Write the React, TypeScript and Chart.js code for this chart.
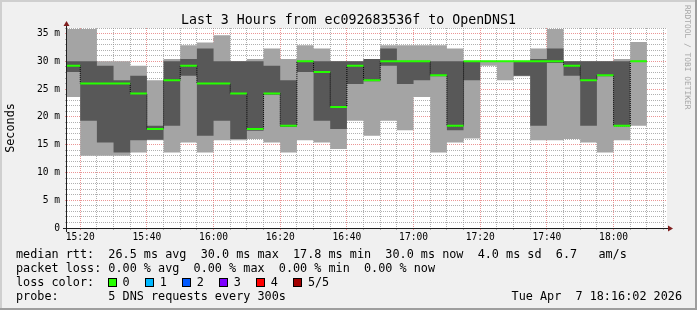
import React, { useEffect, useRef } from 'react';
import { Chart, registerables } from 'chart.js';

Chart.register(...registerables);

// ---------------- data ----------------
// start time of each 5-minute step (value holds until the next step)
const times = ['15:15', '15:20', '15:25', '15:30', '15:35', '15:40', '15:45', '15:50', '15:55', '16:00', '16:05', '16:10', '16:15', '16:20', '16:25', '16:30', '16:35', '16:40', '16:45', '16:50', '16:55', '17:00', '17:05', '17:10', '17:15', '17:20', '17:25', '17:30', '17:35', '17:40', '17:45', '17:50', '17:55', '18:00', '18:05'];
const dataEnd = '18:10';
const viewStart = '15:16:02';
const viewEnd = '18:16:02';

// sorted ping results (ms): 1st (min), 2nd, 3rd (median), 4th, 5th (max)
const pingMin = [23.6, 13.0, 13.0, 13.0, 13.6, 15.8, 13.6, 15.4, 13.6, 15.8, 15.8, 16.0, 15.4, 13.6, 15.8, 15.4, 14.2, 19.3, 16.6, 19.3, 17.6, 23.6, 13.6, 15.4, 16.1, 29.2, 26.6, 27.3, 15.8, 15.8, 16.0, 15.4, 13.6, 15.8, 18.4];
const ping2 = [28.1, 19.3, 15.4, 13.6, 15.8, 15.9, 18.4, 27.4, 16.6, 19.3, 16.0, 17.5, 24.0, 18.2, 28.1, 19.3, 17.8, 25.9, 26.4, 29.2, 25.9, 26.6, 27.3, 17.6, 26.6, 30.0, 30.0, 27.4, 18.4, 29.7, 27.4, 18.4, 27.3, 18.3, 30.0];
const pingMedian = [29.2, 26.0, 26.0, 26.0, 24.2, 17.8, 26.6, 29.2, 26.0, 26.0, 24.2, 17.8, 24.2, 18.4, 30.0, 28.1, 21.8, 29.2, 26.6, 30.0, 30.0, 30.0, 27.5, 18.4, 30.0, 30.0, 30.0, 30.0, 30.0, 30.0, 29.2, 26.6, 27.5, 18.4, 30.0];
const ping4 = [30.0, 30.0, 29.2, 26.6, 27.4, 18.4, 30.0, 30.4, 32.3, 30.0, 30.0, 30.0, 29.2, 26.6, 30.0, 30.0, 30.0, 30.0, 30.4, 32.3, 30.0, 30.0, 30.0, 30.0, 30.0, 30.0, 30.0, 30.0, 30.4, 32.3, 30.0, 30.0, 30.0, 30.0, 30.0];
const pingMax = [35.8, 35.8, 30.0, 30.0, 29.2, 26.6, 30.4, 32.9, 33.4, 34.7, 30.0, 30.4, 32.3, 30.4, 32.9, 32.3, 30.0, 30.0, 30.4, 32.9, 32.9, 32.9, 32.9, 32.3, 30.0, 30.0, 30.0, 30.0, 32.3, 35.8, 30.0, 30.0, 30.0, 30.4, 33.5];

// axis ticks
const xTickLabels = ['15:20', '15:40', '16:00', '16:20', '16:40', '17:00', '17:20', '17:40', '18:00'];
const xGridFirst = '15:20';
const xGridLast = '18:15';
const xGridStep = 5; // minutes
const yMax = 36;
const yLabelValues = [0, 5, 10, 15, 20, 25, 30, 35];
const yLabels = ['0', '5 m', '10 m', '15 m', '20 m', '25 m', '30 m', '35 m'];

// texts
const chartTitle = 'Last 3 Hours from ec092683536f to OpenDNS1';
const yTitle = 'Seconds';
const legendRtt = 'median rtt:  26.5 ms avg  30.0 ms max  17.8 ms min  30.0 ms now  4.0 ms sd  6.7   am/s';
const legendLoss = 'packet loss: 0.00 % avg  0.00 % max  0.00 % min  0.00 % now';
const lossLabel = 'loss color:';
const lossNames = ['0', '1', '2', '3', '4', '5/5'];
const lossColors = ['#26ff00', '#00b8ff', '#0059ff', '#7e00ff', '#ff0000', '#a10000'];
const probeLabel = 'probe:       5 DNS requests every 300s';
const stamp = 'Tue Apr  7 18:16:02 2026';
const watermark = 'RRDTOOL / TOBI OETIKER';

// ---------------- helpers ----------------
const FONT = "'DejaVu Sans Mono', monospace";
const LIGHT = '#a4a4a4';
const DARK = '#585858';
const GRID = 'rgba(143,143,143,0.7)';
const MGRID = 'rgba(222,79,79,0.6)';

const toMin = (s: string) => {
  const p = s.split(':').map(Number);
  return p[0] * 60 + p[1] + (p[2] || 0) / 60;
};
const fmt = (m: number) => {
  const h = Math.floor(m / 60 + 1e-9);
  const mm = Math.round(m - h * 60);
  return `${String(h).padStart(2, '0')}:${String(mm).padStart(2, '0')}`;
};

const starts = times.map(toMin);
const endX = toMin(dataEnd);
const stepPts = (vals: number[]) => [
  ...starts.map((x, i) => ({ x, y: vals[i] })),
  { x: endX, y: vals[vals.length - 1] },
];
const medianSegments = () => {
  const pts: { x: number; y: number | null }[] = [];
  starts.forEach((x, i) => {
    const nx = i + 1 < starts.length ? starts[i + 1] : endX;
    pts.push({ x, y: pingMedian[i] }, { x: nx, y: pingMedian[i] }, { x: nx, y: null });
  });
  return pts;
};

const xGridValues: number[] = [];
for (let m = toMin(xGridFirst); m <= toMin(xGridLast) + 1e-6; m += xGridStep) xGridValues.push(m);
const yGridValues: number[] = [];
for (let v = 0; v <= yMax; v += 1) yGridValues.push(v);

const rrdPlugin = {
  id: 'rrdLook',
  beforeDraw(chart: any) {
    const { ctx, chartArea: a, width: W, height: H } = chart;
    ctx.save();
    ctx.fillStyle = '#f0f0f0';
    ctx.fillRect(0, 0, W, H);
    ctx.fillStyle = '#cfcfcf';
    ctx.fillRect(0, 0, W, 2);
    ctx.fillRect(0, 0, 2, H);
    ctx.fillStyle = '#9e9e9e';
    ctx.fillRect(0, H - 2, W, 2);
    ctx.fillRect(W - 2, 0, 2, H);
    ctx.fillStyle = '#ffffff';
    ctx.fillRect(a.left, a.top, a.right - a.left, a.bottom - a.top);
    ctx.restore();
  },
  afterDraw(chart: any) {
    const { ctx, chartArea: a } = chart;
    ctx.save();
    // axes
    const ax = a.left - 0.5;
    const ay = a.bottom + 0.5;
    ctx.strokeStyle = '#1f1f1f';
    ctx.lineWidth = 1;
    ctx.beginPath();
    ctx.moveTo(a.left - 4, ay);
    ctx.lineTo(a.right + 4, ay);
    ctx.moveTo(ax, a.bottom + 4);
    ctx.lineTo(ax, a.top - 4);
    ctx.stroke();
    // arrows
    ctx.fillStyle = '#801f1f';
    ctx.beginPath();
    ctx.moveTo(a.right + 1, ay - 3);
    ctx.lineTo(a.right + 1, ay + 3);
    ctx.lineTo(a.right + 6, ay);
    ctx.closePath();
    ctx.fill();
    ctx.beginPath();
    ctx.moveTo(ax - 3, a.top - 2);
    ctx.lineTo(ax + 3, a.top - 2);
    ctx.lineTo(ax, a.top - 7);
    ctx.closePath();
    ctx.fill();

    // title
    ctx.fillStyle = '#000';
    ctx.font = `13.25px ${FONT}`;
    ctx.textAlign = 'center';
    ctx.textBaseline = 'alphabetic';
    ctx.fillText(chartTitle, 348.5, 24);

    // y title
    ctx.save();
    ctx.translate(11, (a.top + a.bottom) / 2);
    ctx.rotate(-Math.PI / 2);
    ctx.font = `11.8px ${FONT}`;
    ctx.textAlign = 'center';
    ctx.textBaseline = 'middle';
    ctx.fillText(yTitle, 0, 0);
    ctx.restore();

    // legend
    ctx.font = `11.8px ${FONT}`;
    ctx.textAlign = 'left';
    ctx.textBaseline = 'alphabetic';
    ctx.fillStyle = '#000';
    ctx.fillText(legendRtt, 16, 258);
    ctx.fillText(legendLoss, 16, 272);
    ctx.fillText(lossLabel, 16, 286);
    lossColors.forEach((c, i) => {
      const bx = 108 + 37.06 * i;
      ctx.fillStyle = '#000';
      ctx.fillRect(Math.round(bx), 278, 9, 9);
      ctx.fillStyle = c;
      ctx.fillRect(Math.round(bx) + 1, 279, 7, 7);
      ctx.fillStyle = '#000';
      ctx.fillText(lossNames[i], bx + 14.6, 286);
    });
    ctx.fillText(probeLabel, 16, 300);
    ctx.textAlign = 'right';
    ctx.fillText(stamp, 682, 300);

    // watermark
    ctx.save();
    ctx.translate(687.5, 5);
    ctx.rotate(Math.PI / 2);
    ctx.font = `7.9px ${FONT}`;
    ctx.fillStyle = '#a6a6a6';
    ctx.textAlign = 'left';
    ctx.textBaseline = 'middle';
    ctx.fillText(watermark, 0, 0);
    ctx.restore();

    ctx.restore();
  },
};

export default function App() {
  const ref = useRef<HTMLCanvasElement | null>(null);

  useEffect(() => {
    if (!ref.current) return;
    const hidden = 'rgba(0,0,0,0)';
    const base = { pointRadius: 0, pointHoverRadius: 0, stepped: 'before' as const, clip: 0 };
    const chart = new Chart(ref.current, {
      type: 'line',
      data: {
        datasets: [
          { ...base, data: stepPts(pingMax), borderColor: hidden, borderWidth: 1, fill: false, order: 10 },
          { ...base, data: stepPts(pingMin), borderColor: hidden, borderWidth: 1, fill: 0, backgroundColor: LIGHT, order: 9 },
          { ...base, data: stepPts(ping4), borderColor: hidden, borderWidth: 1, fill: false, order: 8 },
          { ...base, data: stepPts(ping2), borderColor: hidden, borderWidth: 1, fill: 2, backgroundColor: DARK, order: 7 },
          { ...base, data: stepPts(pingMedian), borderColor: '#000000', borderWidth: 1, borderDash: [1, 1], fill: false, order: 2 },
          { pointRadius: 0, clip: 0, data: medianSegments(), borderColor: lossColors[0], borderWidth: 2, borderCapStyle: 'butt', fill: false, spanGaps: false, stepped: false, order: 1 },
        ] as any,
      },
      options: {
        responsive: false,
        animation: false,
        events: [],
        layout: { padding: { left: 0, right: 30, top: 28, bottom: 62 } },
        plugins: { legend: { display: false }, tooltip: { enabled: false }, title: { display: false } },
        scales: {
          x: {
            type: 'linear',
            min: toMin(viewStart),
            max: toMin(viewEnd),
            afterBuildTicks: (s: any) => {
              s.ticks = xGridValues.map((v) => ({ value: v }));
            },
            afterFit: (s: any) => {
              s.height = 20;
            },
            ticks: {
              autoSkip: false,
              maxRotation: 0,
              minRotation: 0,
              padding: 1.5,
              color: '#000',
              font: { family: FONT, size: 9.6 },
              callback: (v: any) => {
                const s = fmt(Number(v));
                return xTickLabels.includes(s) ? s : '';
              },
            },
            grid: {
              lineWidth: 1,
              drawTicks: true,
              tickLength: 2,
              color: (c: any) => (xTickLabels.includes(fmt(c.tick.value)) ? MGRID : GRID),
              tickColor: (c: any) => (xTickLabels.includes(fmt(c.tick.value)) ? MGRID : GRID),
            },
            border: { display: false, dash: [1, 1] },
          },
          y: {
            type: 'linear',
            min: 0,
            max: yMax,
            afterBuildTicks: (s: any) => {
              s.ticks = yGridValues.map((v) => ({ value: v }));
            },
            afterFit: (s: any) => {
              s.width = 67;
            },
            ticks: {
              autoSkip: false,
              padding: 5,
              color: '#000',
              font: { family: FONT, size: 9.6 },
              callback: (v: any) => {
                const i = yLabelValues.indexOf(Number(v));
                return i >= 0 ? yLabels[i] : '';
              },
            },
            grid: {
              lineWidth: 1,
              drawTicks: true,
              tickLength: 2,
              color: (c: any) => (c.tick.value % 5 === 0 ? MGRID : GRID),
              tickColor: (c: any) => (c.tick.value % 5 === 0 ? MGRID : GRID),
            },
            border: { display: false, dash: [1, 1] },
          },
        },
      } as any,
      plugins: [rrdPlugin],
    });
    return () => chart.destroy();
  }, []);

  return (
    <div style={{ position: 'fixed', left: 0, top: 0, width: 697, height: 310 }}>
      <canvas ref={ref} width={697} height={310} style={{ display: 'block', width: 697, height: 310 }} />
    </div>
  );
}
